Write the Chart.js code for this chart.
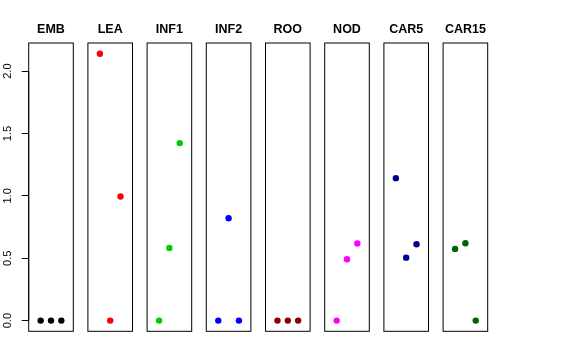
<!DOCTYPE html>
<html><head><meta charset="utf-8">
<script src="https://cdn.jsdelivr.net/npm/chart.js@4/dist/chart.umd.min.js"></script>
<style>
html,body{margin:0;padding:0;background:#fff;}
#wrap{position:relative;width:576px;height:360px;background:#fff;}
#wrap canvas{position:absolute;left:0;top:0;}
</style>
</head><body><div id="wrap"></div>
<script>
// ---- data ----
const panels = ['EMB', 'LEA', 'INF1', 'INF2', 'ROO', 'NOD', 'CAR5', 'CAR15'];
const positions = [1, 2, 3];
const EMB   = [0, 0, 0];
const LEA   = [2.14, 0, 0.995];
const INF1  = [0, 0.583, 1.423];
const INF2  = [0, 0.821, 0];
const ROO   = [0, 0, 0];
const NOD   = [0, 0.492, 0.618];
const CAR5  = [1.142, 0.505, 0.612];
const CAR15 = [0.575, 0.620, 0];
const seriesValues = [EMB, LEA, INF1, INF2, ROO, NOD, CAR5, CAR15];
const colors = ['#000000', '#FF0000', '#00CD00', '#0000FF', '#8B0000', '#FF00FF', '#00008B', '#006400'];
const yTicks = [0, 0.5, 1.0, 1.5, 2.0];
const yTickLabels = ['0.0', '0.5', '1.0', '1.5', '2.0'];

// ---- layout ----
const W = 576, H = 360;
const boxLeft0 = 28.7, boxStep = 59.2, boxWidth = 44.6, boxTop = 43, boxBottom = 331.3;
const allVals = seriesValues.flat();
const vMin = Math.min(...allVals), vMax = Math.max(...allVals);
const yMin = vMin - 0.04 * (vMax - vMin), yMax = vMax + 0.04 * (vMax - vMin);
const xMin = -0.16, xMax = 4.16;
const titleFont = {family: 'Liberation Sans, Arial, Helvetica, sans-serif', size: 12.5, weight: 'bold', lineHeight: 1.2};
const tickFont = {family: 'Liberation Sans, Arial, Helvetica, sans-serif', size: 11};
const titlePadTop = 29.5 - 12.5 * 1.2 / 2;
const titlePadBottom = boxTop - titlePadTop - 12.5 * 1.2;

const framePlugin = {
  id: 'frame',
  beforeDatasetsDraw(chart) {
    const {ctx, chartArea: a} = chart;
    ctx.save();
    ctx.strokeStyle = '#000';
    ctx.lineWidth = 1;
    ctx.strokeRect(a.left, a.top, a.right - a.left, a.bottom - a.top);
    if (chart.options.plugins.frame && chart.options.plugins.frame.axis) {
      const ys = chart.scales.y;
      ctx.beginPath();
      ctx.moveTo(a.left, ys.getPixelForValue(yTicks[0]));
      ctx.lineTo(a.left, ys.getPixelForValue(yTicks[yTicks.length - 1]));
      ctx.stroke();
    }
    ctx.restore();
  }
};

const wrap = document.getElementById('wrap');
panels.forEach((name, i) => {
  const cv = document.createElement('canvas');
  cv.width = W; cv.height = H;
  cv.style.width = W + 'px'; cv.style.height = H + 'px';
  wrap.appendChild(cv);
  const left = boxLeft0 + boxStep * i;
  const right = left + boxWidth;
  const first = i === 0;
  new Chart(cv, {
    type: 'scatter',
    data: {
      datasets: [{
        data: positions.map((p, k) => ({x: p, y: seriesValues[i][k]})),
        backgroundColor: colors[i],
        borderWidth: 0,
        pointRadius: 3.2,
        pointHoverRadius: 3.2
      }]
    },
    options: {
      responsive: false,
      animation: false,
      events: [],
      layout: {padding: {left: first ? 0 : left, right: W - right, top: 0, bottom: H - boxBottom}},
      plugins: {
        legend: {display: false},
        tooltip: {enabled: false},
        frame: {axis: first},
        title: {
          display: true, text: name, fullSize: false, color: '#000',
          font: titleFont, padding: {top: titlePadTop, bottom: titlePadBottom}
        }
      },
      scales: {
        x: {type: 'linear', display: false, min: xMin, max: xMax},
        y: {
          type: 'linear', display: first, min: yMin, max: yMax,
          afterFit: (s) => { if (first) s.width = boxLeft0; },
          afterBuildTicks: (s) => { s.ticks = yTicks.map(v => ({value: v})); },
          border: {display: false},
          grid: {display: true, drawOnChartArea: false, drawTicks: true, tickLength: 7, tickColor: '#000', tickWidth: 1},
          ticks: {
            color: '#000', font: tickFont, padding: 6, minRotation: 90, maxRotation: 90,
            crossAlign: 'center', includeBounds: false,
            callback: (v) => { const k = yTicks.indexOf(v); return k >= 0 ? yTickLabels[k] : ''; }
          }
        }
      }
    },
    plugins: [framePlugin]
  });
});
</script>
</body></html>
